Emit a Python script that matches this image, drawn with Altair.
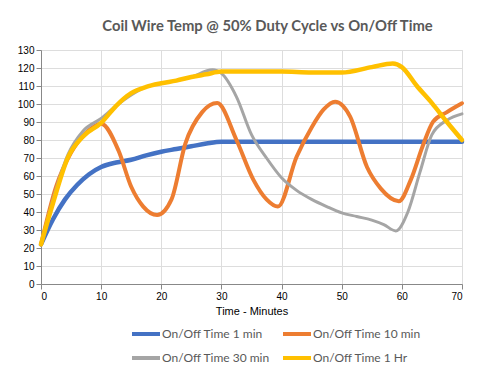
import altair as alt
import pandas as pd

series_names = ["On/Off Time 1 min", "On/Off Time 10 min", "On/Off Time 30 min", "On/Off Time 1 Hr"]
series_colors = ["#4472C4", "#ED7D31", "#A5A5A5", "#FFC000"]
series_widths = [4.5, 4, 3, 4.5]

t_1min = [0, 2, 4, 6, 8, 10, 12.5, 15, 17.5, 20, 22.5, 25, 27.5, 30, 35, 40, 45, 50, 55, 60, 65, 70]
v_1min = [22, 36, 47, 55, 61, 65, 67.5, 69, 71.5, 73.5, 75, 76.5, 78, 79, 79, 79, 79, 79, 79, 79, 79, 79]

t_10min = [0, 2.5, 5, 7.5, 10, 12.9, 15, 17, 19.3, 21.7, 24, 26.8, 29.3, 32.5, 35.3, 37.5, 39.4,
           42.5, 45, 47, 48.9, 51.4, 54.2, 56.5, 59.5, 61.5, 63.5, 65.2, 67.5, 70]
v_10min = [22, 54, 73, 84, 89, 74, 54, 43, 38.3, 47, 78, 95.5, 100.5, 80, 58, 47, 43,
           70.7, 87, 97, 101.3, 93, 65, 53, 46, 58, 77, 90.2, 95.5, 100.4]

t_30min = [0, 2, 4.5, 7, 10, 12.5, 15, 17.5, 20, 22.5, 25, 28.5, 30, 32.5, 35, 37.5, 40, 42.5, 45,
           47.5, 50, 52.5, 55, 57, 59, 61, 63, 65, 67.5, 70]
v_30min = [22, 47, 72, 85, 92, 99, 105, 109.5, 111.5, 113, 115, 119, 117, 104, 83, 70, 59, 52, 47,
           43, 39.5, 37.5, 35.5, 33, 29.5, 40, 62, 83, 91, 94.5]

t_1hr = [0, 2, 4.5, 7, 10, 12.5, 15, 17.5, 20, 22.5, 25, 27.5, 30, 35, 40, 45, 50, 55, 58.5, 60,
         62.5, 65, 67.5, 70]
v_1hr = [22, 45, 70.5, 82, 89.5, 99, 106, 109.5, 111.5, 113, 115, 116.5, 118, 118, 118, 117.5,
         117.5, 120.5, 122.5, 120.5, 110, 100.5, 90, 80]

x_ticks = [0, 10, 20, 30, 40, 50, 60, 70]
y_ticks = [0, 10, 20, 30, 40, 50, 60, 70, 80, 90, 100, 110, 120, 130]

all_t = [t_1min, t_10min, t_30min, t_1hr]
all_v = [v_1min, v_10min, v_30min, v_1hr]

rows = []
for name, ts, vs in zip(series_names, all_t, all_v):
    for t, v in zip(ts, vs):
        rows.append({"series": name, "time": t, "temp": v})
df = pd.DataFrame(rows)

FONT = "Lato"
color_scale = alt.Scale(domain=series_names, range=series_colors)

layers = []
for name, w in zip(series_names, series_widths):
    layers.append(
        alt.Chart(df)
        .transform_filter(alt.datum.series == name)
        .mark_line(interpolate="monotone", strokeWidth=w, strokeCap="round", strokeJoin="round")
        .encode(
            x=alt.X("time:Q", scale=alt.Scale(domain=[0, 70], nice=False),
                    axis=alt.Axis(values=x_ticks, title="Time - Minutes",
                                  titleFontWeight="normal")),
            y=alt.Y("temp:Q", scale=alt.Scale(domain=[0, 130], nice=False),
                    axis=alt.Axis(values=y_ticks, title=None)),
            color=alt.Color("series:N", scale=color_scale,
                            legend=alt.Legend(title=None, orient="none", legendX=89, legendY=268,
                                              direction="horizontal",
                                              columns=2, symbolType="stroke", symbolSize=784,
                                              symbolStrokeWidth=4, columnPadding=5,
                                              rowPadding=-7, labelFontSize=12, labelColor="#595959",
                                              labelFont=FONT, labelOffset=0, padding=0)),
        )
    )

chart = (
    alt.layer(*layers)
    .properties(
        width=421,
        height=234,
        padding={"left": 33, "top": 42, "right": 17, "bottom": 80},
        autosize=alt.AutoSizeParams(type="none"),
        title=alt.Title("Coil Wire Temp @ 50% Duty Cycle vs On/Off Time", font=FONT, fontSize=14.8,
                        fontWeight="bold", color="#595959", anchor="middle", dx=16, dy=23,
                        baseline="alphabetic", offset=22),
    )
    .configure_view(stroke=None)
    .configure_axis(
        grid=True, gridColor="#D9D9D9", gridWidth=1, ticks=False, domain=False,
        labelFont=FONT, labelFontSize=12, labelColor="#595959",
        titleFont=FONT, titleFontSize=12, titleColor="#262626", titleFontWeight="normal",
    )
    .configure_axisX(domain=True, domainColor="#BFBFBF", domainWidth=1, labelPadding=17,
                     titlePadding=2)
    .configure_axisY(labelPadding=10)
    .configure(background="white")
)

chart.save("out.html", embed_options={"renderer": "svg", "actions": False})
